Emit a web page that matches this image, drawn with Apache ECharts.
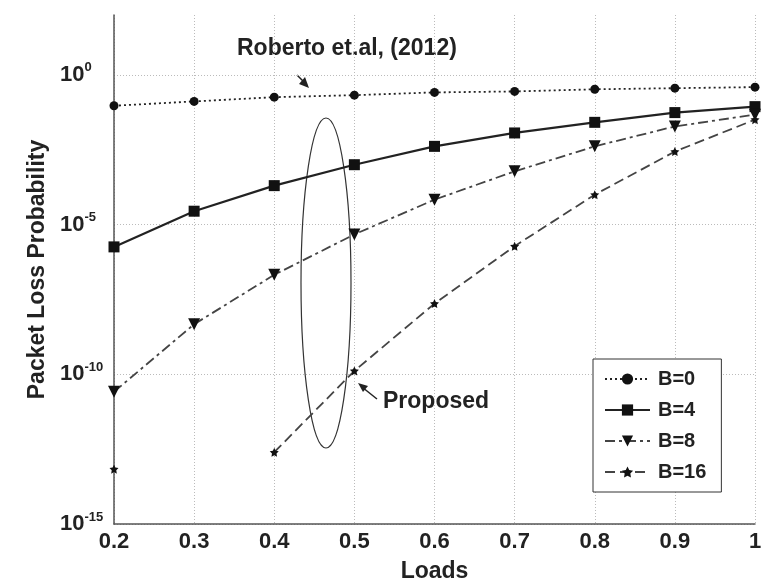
<!DOCTYPE html>
<html><head><meta charset="utf-8">
<script src="https://cdn.jsdelivr.net/npm/echarts@6/dist/echarts.min.js"></script>
<style>html,body{margin:0;padding:0;background:#fff}#c{width:761px;height:585px}</style>
</head><body><div id="c"></div>
<script>
const loads = [0.2, 0.3, 0.4, 0.5, 0.6, 0.7, 0.8, 0.9, 1.0];
const b0  = [0.093, 0.13, 0.18, 0.21, 0.26, 0.28, 0.33, 0.36, 0.39];
const b4  = [1.8e-6, 2.8e-5, 2.0e-4, 1.0e-3, 4.1e-3, 1.15e-2, 2.6e-2, 5.5e-2, 8.7e-2];
const b8  = [2.6e-11, 4.7e-9, 2.1e-7, 4.7e-6, 6.8e-5, 6.0e-4, 4.1e-3, 1.9e-2, 4.7e-2];
const b16 = [6.8e-14, null, 2.5e-13, 1.3e-10, 2.3e-8, 1.9e-6, 1.0e-4, 2.75e-3, 3.2e-2];
const xTicks = ['0.2','0.3','0.4','0.5','0.6','0.7','0.8','0.9','1'];

const font = '"Liberation Sans", Arial, sans-serif';
const starPath = 'path://M0,-10 L2.9,-4 L9.5,-3.1 L4.8,1.5 L5.9,8.1 L0,5 L-5.9,8.1 L-4.8,1.5 L-9.5,-3.1 L-2.9,-4 Z';
const chart = echarts.init(document.getElementById('c'));
function pairs(arr){ return loads.map((x,i)=>[x, arr[i]]); }

chart.setOption({
  animation: false,
  grid: {left: 114, right: 6, top: 15, bottom: 61, containLabel: false, outerBoundsMode: 'none'},
  xAxis: {
    type: 'value', min: 0.2, max: 1.0, interval: 0.1,
    name: 'Loads', nameLocation: 'middle', nameGap: 36,
    nameTextStyle: {fontFamily: font, fontWeight: 'bold', fontSize: 23, color: '#222'},
    axisLine: {lineStyle: {color: '#555', width: 1.5}},
    axisTick: {show: false},
    axisLabel: {fontFamily: font, fontWeight: 'bold', fontSize: 22, color: '#222', margin: 7,
      formatter: v => xTicks[Math.round((v - 0.2) * 10)] ?? ''},
    splitLine: {show: true, lineStyle: {color: '#bbb', type: [1, 2], width: 1}}
  },
  yAxis: {
    type: 'log', logBase: 10, min: 1e-15, max: 1e2, interval: 5,
    name: 'Packet Loss Probability', nameLocation: 'middle', nameGap: 56,
    nameTextStyle: {fontFamily: font, fontWeight: 'bold', fontSize: 23, color: '#222'},
    axisLine: {show: true, lineStyle: {color: '#555', width: 1.5}},
    axisTick: {show: false},
    axisLabel: {
      fontFamily: font, fontWeight: 'bold', fontSize: 22, color: '#222', margin: 54, align: 'left',
      formatter: v => {
        const e = Math.round(Math.log10(v));
        if (e > 0 || e % 5 !== 0) return '';
        return '10{s|' + e + '}';
      },
      rich: {s: {fontFamily: font, fontWeight: 'bold', fontSize: 13, color: '#222', padding: [0, 0, 14, 0]}}
    },
    splitLine: {show: true, showMaxLine: false, lineStyle: {color: '#bbb', type: [1, 2], width: 1}}
  },
  legend: {
    orient: 'vertical', left: 593, top: 359,
    backgroundColor: '#fff', borderColor: '#333', borderWidth: 1,
    padding: [10, 15, 10, 11], itemGap: 11, itemWidth: 45, itemHeight: 14,
    textStyle: {fontFamily: font, fontWeight: 'bold', fontSize: 20, color: '#222', padding: [0, 0, 0, 3]},
    data: ['B=0', 'B=4', 'B=8', 'B=16']
  },
  series: [
    {name: 'B=0', type: 'line', data: pairs(b0), symbol: 'circle', symbolSize: 9,
      lineStyle: {color: '#222', width: 1.8, type: [2, 3]}, itemStyle: {color: '#111'}},
    {name: 'B=4', type: 'line', data: pairs(b4), symbol: 'rect', symbolSize: 11,
      lineStyle: {color: '#222', width: 2.2, type: 'solid'}, itemStyle: {color: '#111'}},
    {name: 'B=8', type: 'line', data: pairs(b8), symbol: 'triangle', symbolRotate: 180, symbolSize: 12,
      lineStyle: {color: '#444', width: 1.8, type: [10, 4, 3, 4]}, itemStyle: {color: '#111'}},
    {name: 'B=16', type: 'line', data: pairs(b16), symbol: starPath, symbolSize: 9, connectNulls: false,
      lineStyle: {color: '#444', width: 1.8, type: [10, 5]}, itemStyle: {color: '#111'}}
  ],
  graphic: [
    {type: 'text', left: 237, top: 37, style: {text: 'Roberto et.al, (2012)', fontFamily: font, fontWeight: 'bold', fontSize: 23, fill: '#222'}},
    {type: 'line', shape: {x1: 297, y1: 75, x2: 306, y2: 84}, style: {stroke: '#222', lineWidth: 1.5}},
    {type: 'polygon', shape: {points: [[309, 88], [299, 84], [305, 77]]}, style: {fill: '#222'}},
    {type: 'ellipse', shape: {cx: 326, cy: 283, rx: 25, ry: 165}, style: {fill: 'none', stroke: '#333', lineWidth: 1.2}},
    {type: 'text', left: 383, top: 390, style: {text: 'Proposed', fontFamily: font, fontWeight: 'bold', fontSize: 23, fill: '#222'}},
    {type: 'line', shape: {x1: 377, y1: 399, x2: 362, y2: 387}, style: {stroke: '#222', lineWidth: 1.5}},
    {type: 'polygon', shape: {points: [[358, 383], [368, 386], [363, 392]]}, style: {fill: '#222'}}
  ]
});
</script></body></html>
